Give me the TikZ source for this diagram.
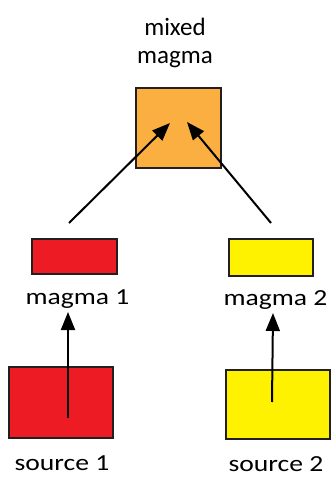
\documentclass[tikz,border=0pt]{standalone}
\usepackage{fontspec}
\setmainfont{Carlito}
\usetikzlibrary{arrows.meta}
\definecolor{magmared}{HTML}{ED1C24}
\definecolor{magmayellow}{HTML}{FFF200}
\definecolor{magmaorange}{HTML}{FBAF40}
\definecolor{edge}{HTML}{231F20}
\tikzset{
  box/.style={draw=edge, line width=1.6pt, inner sep=0pt, outer sep=0pt},
  flow/.style={line width=2pt, -{Triangle[length=18pt,width=14pt]}},
  lbl/.style={anchor=base, inner sep=0pt, font=\fontsize{23}{27}\selectfont},
}
\begin{document}
\begin{tikzpicture}[x=1pt,y=-1pt]
  \useasboundingbox (0,0) rectangle (332,478);
  % boxes
  \node[box, fill=magmaorange, minimum width=85pt, minimum height=80pt] (mix) at (178.5,128) {};
  \node[box, fill=magmared, minimum width=85pt, minimum height=35pt] (m1) at (74.5,256.5) {};
  \node[box, fill=magmayellow, minimum width=84pt, minimum height=37pt] (m2) at (271,257.5) {};
  \node[box, fill=magmared, minimum width=104pt, minimum height=71pt] (s1) at (61,402.5) {};
  \node[box, fill=magmayellow, minimum width=104pt, minimum height=69pt] (s2) at (278,404.5) {};
  % labels
  \node[align=center, inner sep=0pt, font=\fontsize{25}{28}\selectfont] (mixlbl) at (175,43) {mixed\\magma};
  \node[lbl] (m1lbl) at (77.5,304) {\scalebox{1.2}[1]{magma 1}};
  \node[lbl] (m2lbl) at (275.5,305) {\scalebox{1.2}[1]{magma 2}};
  \node[lbl] (s1lbl) at (62,470) {\scalebox{1.2}[1]{source 1}};
  \node[lbl] (s2lbl) at (276,471.5) {\scalebox{1.2}[1]{source 2}};
  % arrow ends
  \coordinate (t1) at (68,418);
  \coordinate (h1) at (68,312);
  \coordinate (t2) at (272,402);
  \coordinate (h2) at (273,313);
  \coordinate (t3) at (69,223);
  \coordinate (h3) at (170,123);
  \coordinate (t4) at (271,223);
  \coordinate (h4) at (187,122);
  % connectors
  \draw[flow] (t1) -- (h1);
  \draw[flow] (t2) -- (h2);
  \draw[flow] (t3) -- (h3);
  \draw[flow] (t4) -- (h4);
\end{tikzpicture}
\end{document}
